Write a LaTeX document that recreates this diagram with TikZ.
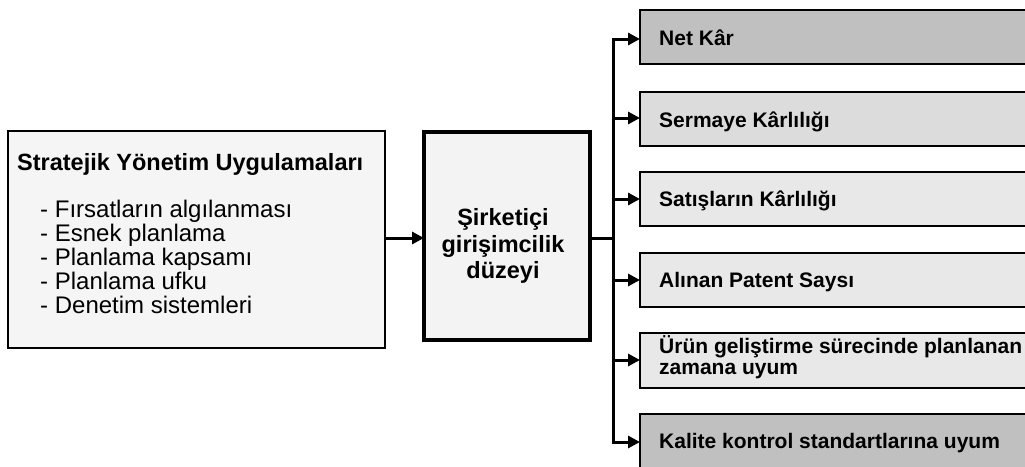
\documentclass[tikz,border=0pt]{standalone}
\usepackage{fontspec}
\setmainfont{Liberation Sans}
\usetikzlibrary{arrows.meta}

\definecolor{leftfill}{HTML}{F5F5F5}
\definecolor{midfill}{HTML}{F3F3F3}
\definecolor{darkfill}{HTML}{C0C0C0}
\definecolor{midgray}{HTML}{DCDCDC}
\definecolor{lightfill}{HTML}{E8E8E8}

\tikzset{
  box/.style={draw=black, line width=1.5pt, inner sep=0pt, outer sep=0pt},
  corebox/.style={draw=black, line width=4pt, inner sep=0pt, outer sep=0pt},
  link/.style={line width=3pt},
  tip/.style={-{Triangle[length=12pt,width=12pt]}},
  titletext/.style={font=\fontsize{23.5}{26}\selectfont\bfseries, anchor=base west, inner sep=0pt},
  listtext/.style={font=\fontsize{24}{24.4}\selectfont, anchor=base west, inner sep=0pt},
  coretext/.style={font=\fontsize{23.5}{26.5}\selectfont\bfseries, align=center, inner sep=0pt},
  outtext/.style={font=\fontsize{21}{21}\selectfont\bfseries, anchor=base west, inner sep=0pt, align=left},
}

\begin{document}
\begin{tikzpicture}[x=1pt, y=-1pt]
  \useasboundingbox (0,0) rectangle (1025,466);
  \clip (0,0) rectangle (1025,466);

  % input box: strategic management practices
  \node[box, fill=leftfill, minimum width=377pt, minimum height=217pt, anchor=north west] (left) at (8,131) {};
  \node[titletext] (lefttitle) at (17,170) {Stratejik Yönetim Uygulamaları};
  \node[listtext] (item1) at (40,217) {- Fırsatların algılanması};
  \node[listtext] (item2) at (40,241) {- Esnek planlama};
  \node[listtext] (item3) at (40,265) {- Planlama kapsamı};
  \node[listtext] (item4) at (40,289) {- Planlama ufku};
  \node[listtext] (item5) at (40,313) {- Denetim sistemleri};

  % central box
  \node[corebox, fill=midfill, minimum width=166pt, minimum height=208pt, anchor=north west] (core) at (424,132) {};
  \node[coretext] (coretxt) at (503,246) {Şirketiçi\\girişimcilik\\düzeyi};

  % output boxes
  \node[box, fill=darkfill,  minimum width=400pt, minimum height=54pt, anchor=north west] (o1) at (640,10)  {};
  \node[box, fill=midgray,   minimum width=400pt, minimum height=54pt, anchor=north west] (o2) at (640,92)  {};
  \node[box, fill=lightfill, minimum width=400pt, minimum height=54pt, anchor=north west] (o3) at (640,172) {};
  \node[box, fill=lightfill, minimum width=400pt, minimum height=54pt, anchor=north west] (o4) at (640,253) {};
  \node[box, fill=lightfill, minimum width=400pt, minimum height=55pt, anchor=north west] (o5) at (640,333) {};
  \node[box, fill=darkfill,  minimum width=400pt, minimum height=56pt, anchor=north west] (o6) at (640,414) {};

  \node[outtext] (t1) at (659,45)  {Net Kâr};
  \node[outtext] (t2) at (659,127) {Sermaye Kârlılığı};
  \node[outtext] (t3) at (659,206) {Satışların Kârlılığı};
  \node[outtext] (t4) at (659,287) {Alınan Patent Saysı};
  \node[outtext] (t5) at (659,374) {Ürün geliştirme sürecinde planlanan\\zamana uyum};
  \node[outtext] (t6) at (659,448) {Kalite kontrol standartlarına uyum};

  % connectors
  \coordinate (split) at (613,238);
  \draw[link, tip] (left.east |- 0,238) -- (core.west |- 0,238);
  \draw[link] (core.east |- split) -- (split);
  \draw[link, line cap=rect] (613,39) -- (613,442);
  \draw[link, tip] (613,39)  -- (o1.west |- 0,39);
  \draw[link, tip] (613,118) -- (o2.west |- 0,118);
  \draw[link, tip] (613,199) -- (o3.west |- 0,199);
  \draw[link, tip] (613,280) -- (o4.west |- 0,280);
  \draw[link, tip] (613,360) -- (o5.west |- 0,360);
  \draw[link, tip] (613,442) -- (o6.west |- 0,442);
\end{tikzpicture}
\end{document}
